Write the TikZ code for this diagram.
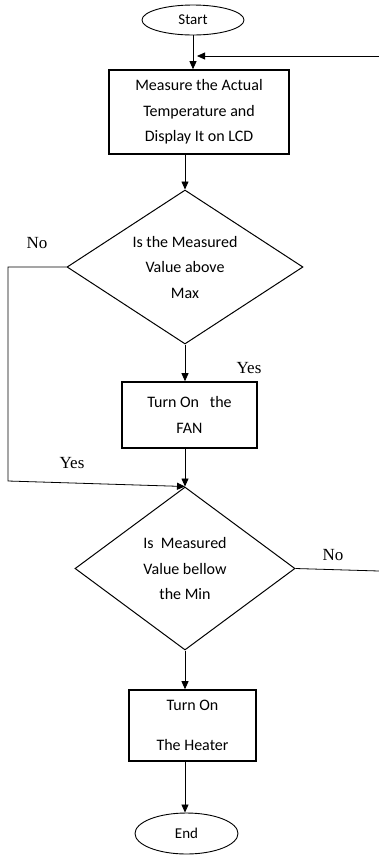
\documentclass[tikz,border=0pt]{standalone}
\usepackage{fontspec}
\setmainfont{Carlito}
\newfontfamily\ansfont{Liberation Serif}
\usetikzlibrary{arrows.meta,shapes.geometric}

\begin{document}
\begin{tikzpicture}[
    x=1pt,
    y=-1pt,
    term/.style={draw, ellipse, line width=0.9pt, inner sep=0pt, font=\fontsize{15}{18}\selectfont},
    proc/.style={draw, rectangle, line width=1.6pt, inner sep=0pt, align=center, font=\fontsize{16}{25.5}\selectfont},
    decision/.style={draw, diamond, aspect=1.5, line width=1pt, inner sep=0pt, align=center, font=\fontsize{16}{25.5}\selectfont},
    flow/.style={-{Triangle[length=8pt, width=7pt]}, line width=0.8pt},
    lab/.style={font=\ansfont\fontsize{17}{17}\selectfont}
  ]
    \useasboundingbox (0,0) rectangle (379,855);

    % main column
    \node[term, minimum width=102pt, minimum height=30pt] (start) at (193,20) {Start};
    \node[proc, minimum width=180pt, minimum height=84pt] (meas) at (199,112)
      {Measure the Actual\\Temperature and\\Display It on LCD};
    \node[decision, minimum width=236pt, minimum height=154pt] (dec1) at (185,267)
      {Is the Measured\\Value above\\Max};
    \node[proc, minimum width=135pt, minimum height=66pt] (fan) at (189.5,415)
      {Turn On\ \ \ the\\FAN};
    \node[decision, minimum width=220pt, minimum height=163pt] (dec2) at (185,568.5)
      {Is\ \ Measured\\Value bellow\\the Min};
    \node[proc, minimum width=127pt, minimum height=71pt] (heat) at (192.5,725.5)
      {Turn On\\[14pt]The Heater};
    \node[term, minimum width=103pt, minimum height=41pt] (end) at (186.5,833.5) {End};

    \coordinate (loopin) at (379,56);
    \coordinate (loopend) at (197,56);
    \coordinate (noleft) at (8,267);
    \coordinate (yesleft) at (8,481);
    \coordinate (noright) at (379,571);

    % arrows down
    \draw[flow] (start.south) -- (start.south |- meas.north);
    \draw[flow] (dec1.north |- meas.south) -- (dec1.north);
    \draw[flow] (dec1.south) -- (dec1.south |- fan.north);
    \draw[flow] (dec1.south |- fan.south) -- (dec2.north);
    \draw[flow] (dec2.south) -- (dec2.south |- heat.north);
    \draw[flow] (dec2.south |- heat.south) -- (dec2.south |- end.north);

    % branches
    \draw[flow] (loopin) -- (loopend);
    \draw[flow] (dec1.west) -- (noleft) -- (yesleft) -- (dec2.north);
    \draw[line width=0.8pt] (dec2.east) -- (noright);

    \node[lab] (no1) at (37,243) {No};
    \node[lab] (yes1) at (249,368) {Yes};
    \node[lab] (yes2) at (72,463) {Yes};
    \node[lab] (no2) at (333,555) {No};
\end{tikzpicture}
\end{document}
